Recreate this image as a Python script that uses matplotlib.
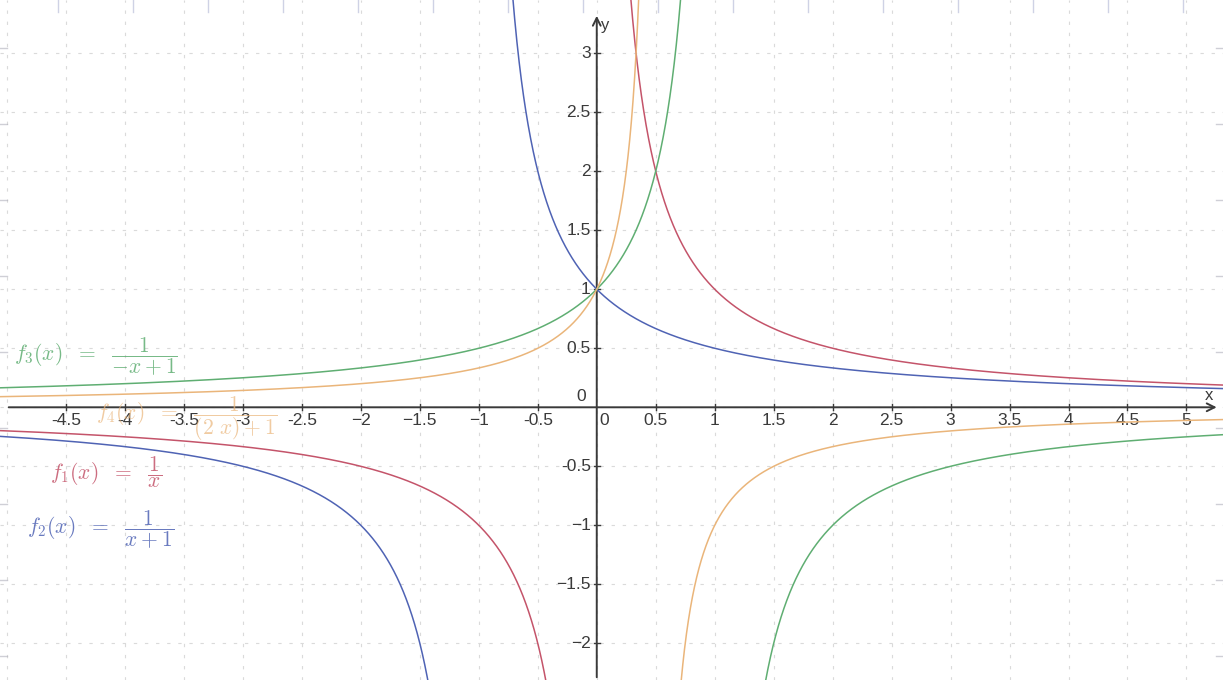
import numpy as np
import matplotlib.pyplot as plt

plt.rcParams['mathtext.fontset'] = 'cm'
plt.rcParams['font.family'] = ['Liberation Sans', 'DejaVu Sans']

# functions f(x) = 1 / (a*x + b)
names = ['f_1', 'f_2', 'f_3', 'f_4']
a_coef = [1, 1, -1, -2]
b_coef = [0, 1, 1, 1]
colors = ['#c4546a', '#4f63b4', '#5fae72', '#eab57a']
labels = [r'$f_1(x)\ \ =\ \ \dfrac{1}{x}$',
          r'$f_2(x)\ \ =\ \ \dfrac{1}{x + 1}$',
          r'$f_3(x)\ \ =\ \ \dfrac{1}{-x + 1}$',
          r'$f_4(x)\ \ =\ \ \dfrac{1}{(2\ x) + 1}$']
label_x = [-4.64, -4.83, -4.94, -4.25]
label_y = [-0.55, -1.04, 0.43, -0.1]

xticks = [-4.5, -4, -3.5, -3, -2.5, -2, -1.5, -1, -0.5, 0.5, 1, 1.5, 2, 2.5, 3, 3.5, 4, 4.5, 5]
xtick_text = ['-4.5', '-4', '-3.5', '-3', '-2.5', '\u22122', '\u22121.5', '\u22121', '-0.5',
              '0.5', '1', '1.5', '2', '2.5', '3', '3.5', '4', '4.5', '5']
yticks = [-2, -1.5, -1, -0.5, 0.5, 1, 1.5, 2, 2.5, 3]
ytick_text = ['\u22122', '\u22121.5', '\u22121', '-0.5', '0.5', '1', '1.5', '2', '2.5', '3']

xmin, xmax = -5.06, 5.31
ymin, ymax = -2.31, 3.45

fig = plt.figure(figsize=(12.23, 6.8), dpi=100)
ax = fig.add_axes([0, 0, 1, 1])
ax.set_xlim(xmin, xmax)
ax.set_ylim(ymin, ymax)
ax.axis('off')

# faint dashed grid every 0.5
for gx in np.arange(-5, 5.5, 0.5):
    ax.axvline(gx, color='#dadada', lw=0.8, ls=(0, (3, 7)), zorder=0)
for gy in np.arange(-2, 3.5, 0.5):
    ax.axhline(gy, color='#dadada', lw=0.8, ls=(0, (3, 7)), zorder=0)

# axes with arrows
axis_col = '#3a3a3a'
ax.annotate('', xy=(xmax - 0.03, 0), xytext=(xmin + 0.05, 0),
            arrowprops=dict(arrowstyle='->', color=axis_col, lw=1.4, mutation_scale=14))
ax.annotate('', xy=(0, ymax - 0.11), xytext=(0, ymin),
            arrowprops=dict(arrowstyle='->', color=axis_col, lw=1.4, mutation_scale=14))
ax.text(xmax - 0.12, 0.04, 'x', fontsize=12, ha='center', va='bottom', color=axis_col)
ax.text(0.04, ymax - 0.22, 'y', fontsize=12, ha='left', va='center', color=axis_col)

for t, s in zip(xticks, xtick_text):
    ax.plot([t, t], [-0.025, 0.025], color=axis_col, lw=1)
    ax.text(t, -0.05, s, fontsize=12.5, ha='center', va='top', color=axis_col)
ax.text(0.06, -0.05, '0', fontsize=12.5, ha='center', va='top', color=axis_col)
for t, s in zip(yticks, ytick_text):
    ax.plot([-0.025, 0.025], [t, t], color=axis_col, lw=1)
    ax.text(-0.05, t, s, fontsize=12.5, ha='right', va='center', color=axis_col)
ax.text(-0.09, 0.03, '0', fontsize=12.5, ha='right', va='bottom', color=axis_col)

# curves, split at the vertical asymptote
for a, b, c in zip(a_coef, b_coef, colors):
    pole = -b / a
    for lo, hi in [(xmin, pole - 1e-3), (pole + 1e-3, xmax)]:
        xs = np.linspace(lo, hi, 2000)
        ys = 1 / (a * xs + b)
        ys[(ys > ymax + 1) | (ys < ymin - 1)] = np.nan
        ax.plot(xs, ys, color=c, lw=1.1, zorder=3)

label_alpha = [0.85, 0.85, 0.85, 0.7]
for s, x, y, c, al in zip(labels, label_x, label_y, colors, label_alpha):
    ax.text(x, y, s, fontsize=15.5, color=c, ha='left', va='center', alpha=al)

# page edge marks
for px in np.arange(58, 1223, 75):
    fig.add_artist(plt.Line2D([px / 1223, px / 1223], [1, 1 - 12 / 680],
                              color='#b0b4d4', lw=1.0, alpha=0.6))
for py in np.arange(48, 680, 76):
    fig.add_artist(plt.Line2D([0, 7 / 1223], [1 - py / 680, 1 - py / 680],
                              color='#b0b0bc', lw=1.0, alpha=0.6))
    fig.add_artist(plt.Line2D([1 - 7 / 1223, 1], [1 - py / 680, 1 - py / 680],
                              color='#b0b0bc', lw=1.0, alpha=0.6))

fig.savefig('out.png', dpi=100)
